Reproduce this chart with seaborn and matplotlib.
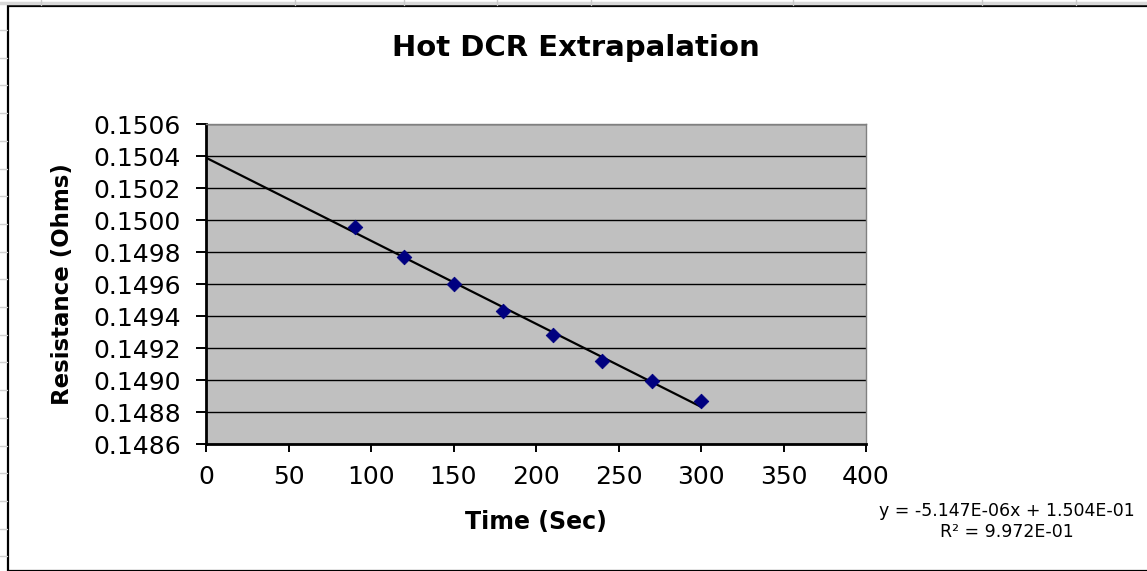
import matplotlib
matplotlib.use("Agg")
import matplotlib.pyplot as plt
from matplotlib.lines import Line2D
from matplotlib.patches import Rectangle
import numpy as np
import seaborn as sns

# data
time_sec = [90, 120, 150, 180, 210, 240, 270, 300]
resistance = [0.149956, 0.149769, 0.149600, 0.149431, 0.149281, 0.149119, 0.148994, 0.148869]
y_ticks = [0.1486, 0.1488, 0.1490, 0.1492, 0.1494, 0.1496, 0.1498, 0.1500, 0.1502, 0.1504, 0.1506]
x_ticks = [0, 50, 100, 150, 200, 250, 300, 350, 400]
eq_text = "y = -5.147E-06x + 1.504E-01"
r2_text = "R² = 9.972E-01"

W, H = 1147, 571

sns.set_style("white")
plt.rcParams['font.family'] = ['DejaVu Sans']
plt.rcParams.update({"text.color": "black", "axes.labelcolor": "black",
                     "xtick.color": "black", "ytick.color": "black"})

fig = plt.figure(figsize=(W / 100, H / 100), dpi=100)
ax = fig.add_axes([206 / W, 1 - 444 / H, (866 - 206) / W, (444 - 124) / H])


def px(x, y):
    return x / W, 1 - y / H


# spreadsheet bits around the chart object
fig.add_artist(Line2D([0, 1], [px(0, 3)[1]] * 2, color="#d8d8d8", lw=2.5))
for xd in [41, 295, 404, 497, 591, 793, 982, 1076]:
    fig.add_artist(Line2D([px(xd, 0)[0]] * 2, [px(0, 0)[1], px(0, 5)[1]], color="#c8c8c8", lw=1))
for yd in np.arange(30, 571, 27.7):
    fig.add_artist(Line2D([0, px(7, 0)[0]], [px(0, yd)[1]] * 2, color="#d0d0d0", lw=1))
fig.add_artist(Rectangle(px(8, 571), (W + 10) / W, (571 - 6) / H, fill=False,
                         edgecolor="black", lw=1.6, transform=fig.transFigure))

ax.set_facecolor("#c0c0c0")

# linear trendline, Excel style (forecast back to 0)
slope, intercept = np.polyfit(time_sec, resistance, 1)
trend_x = np.array([0, max(time_sec)])
sns.lineplot(x=trend_x, y=slope * trend_x + intercept, ax=ax, color="black", lw=1.6, zorder=3)

sns.scatterplot(x=time_sec, y=resistance, ax=ax, marker="D", s=55, color="#000080",
                edgecolor="#000080", zorder=4)

ax.set_xlim(0, 400)
ax.set_ylim(0.1486, 0.1506)
ax.set_xticks(x_ticks)
ax.set_yticks(y_ticks)
ax.set_yticklabels([f"{v:.4f}" for v in y_ticks])
ax.yaxis.grid(True, color="black", lw=1)
ax.set_axisbelow(True)

for side in ["left", "bottom"]:
    ax.spines[side].set_color("black")
    ax.spines[side].set_linewidth(2)
for side in ["top", "right"]:
    ax.spines[side].set_color("#808080")
    ax.spines[side].set_linewidth(1)

ax.tick_params(axis="both", direction="out", color="black", width=1.4,
               labelsize=18, left=True, bottom=True)
ax.tick_params(axis="y", length=7, pad=11)
ax.tick_params(axis="x", length=6, pad=9)

ax.set_xlabel("Time (Sec)", fontsize=17, fontweight="bold", labelpad=15)
ax.set_ylabel("Resistance (Ohms)", fontsize=16.5, fontweight="bold", labelpad=14)
fig.text(*px(576, 48), "Hot DCR Extrapalation", fontsize=21, fontweight="bold",
         ha="center", va="center")

fig.text(*px(1007, 511), eq_text, fontsize=12.5, ha="center", va="center")
fig.text(*px(1007, 532), r2_text, fontsize=12.5, ha="center", va="center")

fig.savefig("out.png", dpi=100)
plt.close(fig)
